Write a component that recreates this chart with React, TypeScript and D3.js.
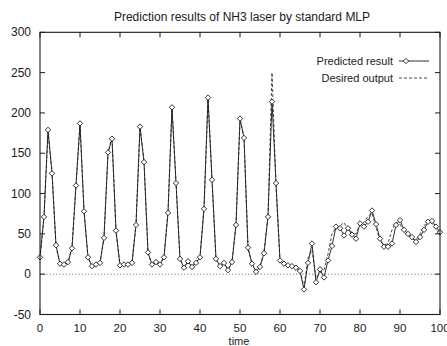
import React from "react";
import * as d3 from "d3";

const title = "Prediction results of NH3 laser by standard MLP";
const xLabel = "time";
const xTicks = [0, 10, 20, 30, 40, 50, 60, 70, 80, 90, 100];
const yTicks = [-50, 0, 50, 100, 150, 200, 250, 300];
const legendLabels = ["Predicted result", "Desired output"];

const predicted = [
  21, 71, 179, 125, 36, 13, 12, 15, 32, 110,
  187, 78, 21, 10, 12, 14, 45, 151, 168, 54,
  11, 12, 12, 14, 61, 183, 139, 27, 12, 15,
  12, 21, 76, 207, 113, 19, 8, 16, 9, 14,
  21, 81, 219, 117, 19, 10, 14, 5, 15, 61,
  193, 169, 33, 13, 3, 9, 26, 71, 214, 113,
  17, 13, 11, 10, 8, 4, -19, 14, 38, -10,
  6, -4, 17, 35, 59, 57, 48, 57, 49, 44,
  63, 59, 65, 79, 62, 44, 34, 34, 38, 61,
  67, 55, 50, 46, 40, 46, 55, 65, 66, 59,
  52,
];

const desired = [
  20, 72, 176, 128, 34, 13, 12, 14, 34, 112,
  185, 80, 20, 10, 12, 14, 47, 150, 170, 52,
  11, 12, 12, 14, 63, 182, 141, 26, 12, 14,
  12, 22, 78, 205, 115, 18, 9, 15, 10, 14,
  22, 83, 217, 119, 18, 10, 13, 6, 15, 63,
  191, 171, 31, 13, 4, 9, 28, 73, 250, 110,
  16, 13, 11, 10, 8, 5, -16, 20, 30, -5,
  2, 5, 25, 50, 58, 60, 64, 55, 52, 50,
  62, 64, 72, 76, 58, 42, 36, 38, 55, 64,
  62, 52, 48, 44, 42, 50, 60, 66, 63, 56,
  50,
];

const W = 447;
const H = 346;
const M = { left: 40, right: 440, top: 32.3, bottom: 314.5 };

const x = d3.scaleLinear().domain([0, 100]).range([M.left, M.right]);
const y = d3.scaleLinear().domain([-50, 300]).range([M.bottom, M.top]);

const ink = "#1a1a1a";
const font = "'Liberation Sans', Arial, Helvetica, sans-serif";

function diamond(cx: number, cy: number, r = 2.7) {
  return `M${cx},${cy - r}L${cx + r},${cy}L${cx},${cy + r}L${cx - r},${cy}Z`;
}

export default function App() {
  const line = d3
    .line<number>()
    .x((_, i) => x(i))
    .y((d) => y(d));

  const tickLen = 5;

  return (
    <svg
      width={W}
      height={H}
      style={{ position: "absolute", left: 0, top: 0, background: "#fff" }}
      fontFamily={font}
    >
      <rect x={0} y={0} width={W} height={H} fill="#fff" />
      {/* title */}
      <text x={242} y={21} textAnchor="middle" fontSize={12} fill={ink}>
        {title}
      </text>

      {/* zero line */}
      <line
        x1={x(0)}
        x2={x(100)}
        y1={y(0)}
        y2={y(0)}
        stroke="#555"
        strokeWidth={0.8}
        strokeDasharray="1.2,2"
      />

      {/* desired dashed */}
      <path
        d={line(desired) || ""}
        fill="none"
        stroke={ink}
        strokeWidth={0.8}
        strokeDasharray="3,2"
      />
      {/* predicted */}
      <path d={line(predicted) || ""} fill="none" stroke={ink} strokeWidth={0.9} />
      {predicted.map((v, i) => (
        <path
          key={i}
          d={diamond(x(i), y(v))}
          fill="#fff"
          stroke={ink}
          strokeWidth={0.9}
        />
      ))}

      {/* frame */}
      <rect
        x={M.left}
        y={M.top}
        width={M.right - M.left}
        height={M.bottom - M.top}
        fill="none"
        stroke={ink}
        strokeWidth={1.1}
      />

      {/* y ticks */}
      {yTicks.map((t) => (
        <g key={"y" + t}>
          <line x1={M.left} x2={M.left + tickLen} y1={y(t)} y2={y(t)} stroke={ink} strokeWidth={1} />
          <line x1={M.right} x2={M.right - tickLen} y1={y(t)} y2={y(t)} stroke={ink} strokeWidth={1} />
          <text x={31} y={y(t) + 4} textAnchor="end" fontSize={12} fill={ink}>
            {t}
          </text>
        </g>
      ))}

      {/* x ticks */}
      {xTicks.map((t) => (
        <g key={"x" + t}>
          <line x1={x(t)} x2={x(t)} y1={M.bottom} y2={M.bottom - tickLen} stroke={ink} strokeWidth={1} />
          <line x1={x(t)} x2={x(t)} y1={M.top} y2={M.top + tickLen} stroke={ink} strokeWidth={1} />
          <text x={x(t)} y={332} textAnchor="middle" fontSize={11.5} fill={ink}>
            {t}
          </text>
        </g>
      ))}
      <text x={239} y={345} textAnchor="middle" fontSize={11} fill={ink}>
        {xLabel}
      </text>

      {/* legend */}
      <text x={393} y={65} textAnchor="end" fontSize={11} fill={ink}>
        {legendLabels[0]}
      </text>
      <line x1={399} x2={429} y1={61} y2={61} stroke={ink} strokeWidth={0.9} />
      <path d={diamond(406, 61)} fill="#fff" stroke={ink} strokeWidth={0.9} />
      <text x={393} y={82} textAnchor="end" fontSize={11} fill={ink}>
        {legendLabels[1]}
      </text>
      <line
        x1={399}
        x2={429}
        y1={78}
        y2={78}
        stroke={ink}
        strokeWidth={0.8}
        strokeDasharray="3,2"
      />
    </svg>
  );
}
